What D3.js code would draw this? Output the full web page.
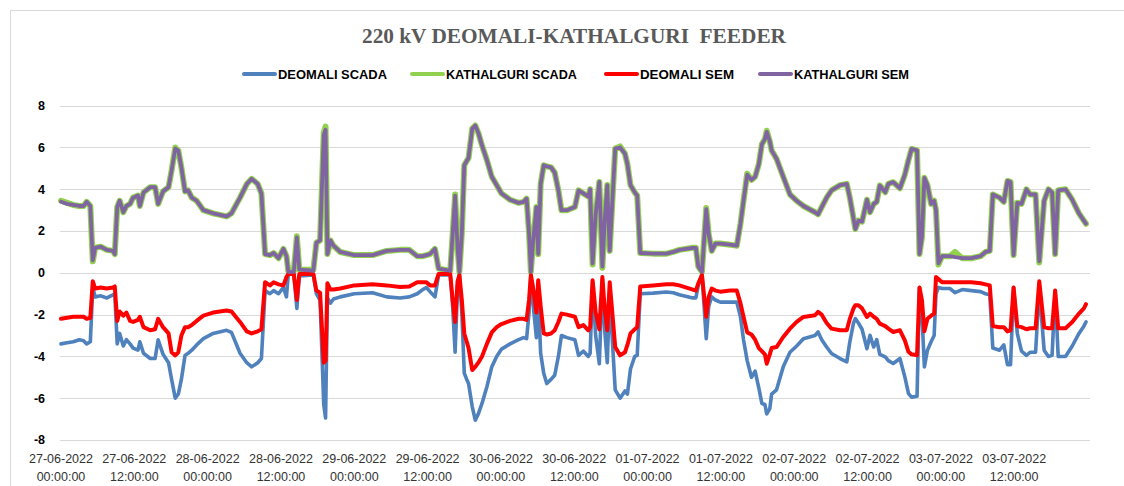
<!DOCTYPE html>
<html>
<head>
<meta charset="utf-8">
<script src="https://cdn.jsdelivr.net/npm/d3@7"></script>
<style>
  body { margin: 0; background: #fff; }
  svg { display: block; }
</style>
</head>
<body>
<div id="chart"></div>
<script>
// hours since 27-06-2022 00:00 (readings)
var hours = [0,1,2,3,3.7,4.2,4.8,5.2,5.6,6.5,7.5,8.5,8.8,9.2,9.6,10.2,10.7,11.3,11.8,12.6,12.9,13.5,14.6,15.4,15.9,16.7,17.6,18.1,18.7,19.2,19.7,20.3,20.8,21.4,22.2,23.3,24.9,27.1,27.9,29.3,30.4,31.2,32.2,32.8,33.4,34.2,34.8,35.6,36.4,36.9,37.2,38.1,38.6,39.0,41.3,41.8,42.4,43.0,43.3,43.6,44.1,44.6,45.7,48,51,53.3,55.5,57,58.3,59.2,59.8,60.4,61.2,61.8,63.7,64.1,64.5,64.9,65.2,65.6,66.0,66.4,66.7,67.3,67.8,68.3,68.9,69.7,70.5,71.3,72.1,73.5,74.9,75.7,76.2,76.6,76.9,77.2,77.8,78.1,78.5,79.0,79.5,80.2,80.8,81.4,81.9,82.8,84.1,84.7,85.5,86.3,86.6,87.0,87.5,88.1,88.6,89.0,89.4,89.8,90.7,91.5,92.3,92.7,93.2,93.9,94.3,94.8,96.9,99.1,100.2,101.2,103.4,103.9,104.3,104.9,105.6,106.0,106.5,107.1,107.9,109.5,110.6,111.2,111.7,112.3,113.0,113.6,114.2,114.7,115.2,115.5,116.0,116.3,117.1,118.2,119.3,120.4,121.5,123.4,123.9,124.5,125.3,126.1,127.5,128.6,129.1,129.7,130.0,130.5,131.1,131.9,132.4,133.0,133.5,134.0,134.9,135.4,136.2,137.3,138.1,138.7,139.2,140.1,140.5,140.9,141.3,141.8,142.4,142.9,143.2,143.6,144.2,145.5,146.3,147.5,149.0,150.5,151.3,152.0,152.5,153.6,154.3,154.9,155.4,155.9,156.5,157.2,158.0,158.6,159.5,160.1,160.9,161.6,162.2,162.7,163.2,164.4,165.5,166.6,167.4,167.75];

var deomaliScada = [-3.4,-3.35,-3.3,-3.2,-3.25,-3.4,-3.3,-0.7,-1.15,-1.1,-1.2,-1.05,-1.0,-3.4,-2.9,-3.5,-3.2,-3.4,-3.6,-3.7,-3.3,-3.85,-4.1,-4.1,-3.2,-3.9,-4.3,-5.1,-6.0,-5.8,-5.1,-3.95,-3.85,-3.7,-3.45,-3.15,-2.9,-2.75,-2.85,-3.85,-4.3,-4.5,-4.3,-4.1,-0.85,-1.0,-0.85,-1.0,-0.7,-1.15,-0.05,-0.05,-1.7,-0.15,-0.1,-1.0,-1.3,-6.3,-6.95,-1.2,-1.45,-1.25,-1.15,-1.0,-0.95,-1.15,-1.2,-1.15,-1.0,-0.8,-0.7,-0.9,-1.15,-0.1,-0.1,-1.6,-3.8,-0.65,-0.05,-1.9,-4.8,-5.1,-5.3,-6.4,-7.05,-6.75,-6.25,-5.45,-4.5,-4.0,-3.65,-3.4,-3.2,-3.1,-3.15,-1.9,-0.05,-1.3,-3.1,-1.0,-3.85,-4.8,-5.3,-5.1,-4.9,-4.0,-3.0,-3.1,-3.2,-3.95,-3.75,-4.0,-3.85,-0.45,-3.0,-4.35,-0.3,-2.8,-4.3,-1.0,-5.6,-6.0,-5.65,-5.8,-4.6,-4.0,-3.95,-1.0,-0.97,-0.92,-0.95,-1.05,-1.2,-1.2,-0.6,-0.05,-3.15,-1.6,-1.15,-1.3,-1.4,-1.4,-1.4,-2.1,-3.2,-4.2,-5.0,-4.7,-5.5,-6.25,-6.3,-6.75,-6.5,-5.8,-5.6,-4.5,-3.8,-3.5,-3.15,-3.0,-2.83,-3.2,-3.55,-3.86,-4.1,-4.26,-3.3,-2.4,-2.19,-2.4,-2.7,-3.63,-2.99,-3.55,-3.2,-3.9,-4.02,-4.2,-4.34,-4.1,-4.98,-5.78,-5.95,-5.9,-0.7,-2.0,-4.5,-3.7,-3.3,-3.0,-1.0,-0.7,-0.75,-0.75,-0.95,-0.8,-0.85,-0.9,-1.0,-1.05,-3.6,-3.7,-3.45,-4.4,-4.4,-0.7,-2.9,-3.75,-3.95,-3.8,-3.8,-0.75,-3.7,-4.0,-3.95,-0.85,-4.0,-4.0,-3.5,-2.9,-2.55,-2.35];

var kathalguriScada = [3.45,3.35,3.25,3.2,3.2,3.4,3.2,0.55,1.2,1.25,1.1,1.05,0.9,3.15,3.45,2.9,3.2,3.3,3.6,3.7,3.2,3.85,4.1,4.1,3.3,3.9,4.1,4.9,6.0,5.85,5.05,3.9,3.95,3.6,3.45,3.0,2.85,2.7,2.85,3.6,4.25,4.5,4.25,3.8,0.9,0.85,0.95,0.7,1.15,0.8,0.1,0.1,1.75,0.15,0.15,1.45,1.55,6.7,7.0,0.9,1.55,1.3,1.0,0.85,0.85,1.05,1.1,1.1,0.8,0.8,0.85,0.9,1.15,0.2,0.1,1.85,3.75,1.2,0.05,1.9,5.15,5.35,5.5,6.9,7.05,6.7,6.1,5.4,4.6,4.2,3.8,3.5,3.35,3.4,3.55,1.9,0.05,1.25,3.15,0.9,4.25,5.15,5.1,5.05,4.8,3.95,3.0,3.0,3.15,3.95,3.8,3.65,4.0,0.4,2.8,4.35,0.25,2.6,4.2,1.05,5.95,6.05,5.7,5.2,4.2,3.85,3.7,0.95,0.92,0.92,1.0,1.1,1.2,1.2,0.3,0.05,3.1,1.85,1.05,1.4,1.4,1.35,1.3,2.35,3.45,4.75,4.45,4.6,5.2,6.15,6.4,6.8,6.3,5.86,5.46,4.6,3.75,3.45,3.2,2.9,2.8,3.15,3.6,3.95,4.2,4.26,3.6,2.6,2.1,2.5,2.45,3.5,2.9,3.3,3.4,4.18,3.86,4.26,4.34,4.05,4.7,5.4,5.93,5.86,0.9,1.7,4.55,4.2,3.3,3.45,3.0,0.4,0.8,0.8,1.0,0.7,0.7,0.8,1.0,1.05,3.75,3.6,3.4,4.4,4.35,0.85,3.35,3.3,4.0,3.75,3.75,0.5,3.45,4.0,3.85,0.9,3.95,4.0,3.5,2.85,2.5,2.35];

var deomaliSem = [-2.2,-2.15,-2.1,-2.1,-2.1,-2.2,-2.15,-0.4,-0.75,-0.7,-0.75,-0.7,-0.65,-2.3,-1.85,-2.05,-1.9,-2.3,-2.35,-2.25,-2.1,-2.6,-2.75,-2.7,-2.2,-2.6,-2.9,-3.8,-3.95,-3.8,-3.0,-2.6,-2.6,-2.5,-2.3,-2.05,-1.9,-1.8,-1.85,-2.35,-2.8,-2.9,-2.8,-2.7,-0.45,-0.6,-0.45,-0.55,-0.6,-0.2,-0.05,-0.05,-1.3,-0.05,-0.05,-0.85,-0.95,-4.3,-4.2,-0.5,-0.8,-0.8,-0.75,-0.6,-0.55,-0.6,-0.68,-0.65,-0.45,-0.45,-0.45,-0.6,-0.6,-0.05,-0.05,-1.3,-2.35,-0.4,-0.1,-1.3,-2.9,-3.3,-3.6,-4.65,-4.5,-4.3,-4.0,-3.4,-2.85,-2.6,-2.45,-2.3,-2.2,-2.2,-2.25,-1.3,-0.1,-0.6,-1.9,-0.35,-1.6,-2.9,-2.95,-2.9,-2.75,-2.35,-1.95,-2.0,-2.1,-2.6,-2.5,-2.75,-2.6,-0.35,-1.9,-2.7,-0.2,-1.8,-2.75,-0.45,-3.55,-3.95,-3.8,-3.45,-2.9,-2.7,-2.6,-0.65,-0.6,-0.55,-0.55,-0.6,-0.8,-0.85,-0.5,-0.1,-2.1,-1.15,-0.75,-0.85,-0.9,-0.85,-0.85,-1.45,-2.1,-2.85,-2.95,-3.2,-3.6,-3.75,-3.9,-4.35,-3.9,-3.6,-3.55,-3.07,-2.67,-2.35,-2.11,-2.03,-1.87,-2.0,-2.4,-2.67,-2.75,-2.75,-2.2,-1.7,-1.55,-1.55,-1.7,-2.11,-1.95,-2.1,-2.2,-2.43,-2.55,-2.67,-2.83,-2.75,-3.23,-3.78,-3.9,-3.94,-0.7,-1.3,-2.8,-2.2,-2.05,-1.95,-0.2,-0.3,-0.45,-0.45,-0.45,-0.45,-0.45,-0.5,-0.55,-0.6,-2.55,-2.6,-2.6,-2.8,-2.75,-0.7,-2.55,-2.6,-2.7,-2.65,-2.65,-0.4,-2.6,-2.65,-2.65,-0.85,-2.65,-2.65,-2.35,-1.95,-1.7,-1.5];

var kathalguriSem = [3.4,3.3,3.25,3.2,3.2,3.4,3.2,0.6,1.2,1.25,1.1,1.05,0.9,3.15,3.45,2.9,3.2,3.3,3.6,3.7,3.2,3.85,4.1,4.1,3.3,3.9,4.1,4.9,5.95,5.85,5.05,3.9,3.95,3.6,3.45,3.0,2.85,2.7,2.85,3.6,4.25,4.5,4.25,3.8,0.9,0.85,0.95,0.7,1.15,0.8,0.05,0.05,1.7,0.15,0.1,1.45,1.55,6.6,6.85,0.9,1.55,1.3,1.0,0.85,0.85,1.05,1.1,1.1,0.8,0.8,0.85,0.9,1.15,0.2,0.1,1.85,3.7,1.2,0.05,1.9,5.15,5.35,5.5,6.9,7.05,6.7,6.1,5.4,4.6,4.2,3.8,3.5,3.35,3.4,3.55,1.9,0.05,1.25,3.15,0.9,4.25,5.15,5.1,5.05,4.8,3.95,3.0,3.0,3.15,3.95,3.8,3.65,4.0,0.45,2.8,4.35,0.3,2.6,4.2,1.05,5.95,6.0,5.7,5.2,4.2,3.85,3.7,0.95,0.92,0.92,1.0,1.1,1.2,1.2,0.3,0.05,3.05,1.85,1.05,1.4,1.4,1.35,1.3,2.35,3.45,4.7,4.45,4.6,5.2,6.15,6.4,6.75,6.3,5.86,5.46,4.6,3.75,3.45,3.2,2.9,2.8,3.15,3.6,3.95,4.2,4.26,3.6,2.6,2.1,2.5,2.45,3.5,2.9,3.3,3.4,4.18,3.86,4.26,4.34,4.05,4.7,5.4,5.93,5.86,0.9,1.7,4.55,4.2,3.3,3.45,3.0,0.45,0.8,0.8,0.75,0.7,0.7,0.8,1.0,1.05,3.75,3.6,3.4,4.4,4.35,0.85,3.35,3.3,4.0,3.75,3.75,0.55,3.45,4.0,3.85,0.9,3.95,4.0,3.5,2.85,2.5,2.35];

var tickHours = [0,12,24,36,48,60,72,84,96,108,120,132,144,156];
var tickDates = ["27-06-2022","27-06-2022","28-06-2022","28-06-2022","29-06-2022","29-06-2022","30-06-2022","30-06-2022","01-07-2022","01-07-2022","02-07-2022","02-07-2022","03-07-2022","03-07-2022"];
var tickTimes = ["00:00:00","12:00:00","00:00:00","12:00:00","00:00:00","12:00:00","00:00:00","12:00:00","00:00:00","12:00:00","00:00:00","12:00:00","00:00:00","12:00:00"];
var yTicks = [-8,-6,-4,-2,0,2,4,6,8];

var seriesNames = ["DEOMALI SCADA","KATHALGURI SCADA","DEOMALI SEM","KATHALGURI SEM"];
var seriesColors = ["#4f81bd","#92d050","#ff0000","#8064a2"];
var seriesValues = [deomaliScada, kathalguriScada, deomaliSem, kathalguriSem];
var seriesWidths = [3.6, 6, 4, 3.8];

var W = 1124, H = 486;
var svg = d3.select("#chart").append("svg")
    .attr("width", W)
    .attr("height", H);

svg.append("rect").attr("width", W).attr("height", H).attr("fill", "#fff");
// chart area border
svg.append("rect")
    .attr("x", 10.5).attr("y", 10.5)
    .attr("width", W + 20).attr("height", H + 20)
    .attr("fill", "none").attr("stroke", "#d9d9d9");

var x = d3.scaleLinear().domain([0, 167.75]).range([61, 1086]);
var y = d3.scaleLinear().domain([-8, 8]).range([440, 105.7]);

// gridlines
svg.append("g").selectAll("line")
    .data(yTicks)
  .enter().append("line")
    .attr("x1", 60).attr("x2", 1090)
    .attr("y1", function(d) { return Math.round(y(d)) + 0.5; })
    .attr("y2", function(d) { return Math.round(y(d)) + 0.5; })
    .attr("stroke", "#d9d9d9")
    .attr("stroke-width", 1);

// y labels
svg.append("g").selectAll("text")
    .data(yTicks)
  .enter().append("text")
    .attr("x", 45)
    .attr("y", function(d) { return y(d); })
    .attr("dy", "0.35em")
    .attr("text-anchor", "end")
    .style("font-family", "'Liberation Sans', Arial, sans-serif")
    .style("font-size", "12.5px")
    .style("font-weight", "bold")
    .style("fill", "#000")
    .text(function(d) { return d; });

// x labels, two lines each
var xl = svg.append("g").selectAll("text")
    .data(tickHours)
  .enter().append("text")
    .attr("text-anchor", "middle")
    .style("font-family", "'Liberation Sans', Arial, sans-serif")
    .style("font-size", "12.5px")
    .style("fill", "#333");
xl.append("tspan")
    .attr("x", function(d) { return x(d); })
    .attr("y", 463)
    .text(function(d, i) { return tickDates[i]; });
xl.append("tspan")
    .attr("x", function(d) { return x(d); })
    .attr("y", 481)
    .text(function(d, i) { return tickTimes[i]; });

// series
var line = d3.line()
    .x(function(d, i) { return x(hours[i]); })
    .y(function(d) { return y(d); });

seriesValues.forEach(function(vals, k) {
  svg.append("path")
      .datum(vals)
      .attr("d", line)
      .attr("fill", "none")
      .attr("stroke", seriesColors[k])
      .attr("stroke-width", seriesWidths[k])
      .attr("stroke-linejoin", "round")
      .attr("stroke-linecap", "round");
});

// title (double space kept as in the original)
svg.append("text")
    .attr("x", 574)
    .attr("y", 43)
    .attr("text-anchor", "middle")
    .attr("textLength", 424)
    .attr("lengthAdjust", "spacingAndGlyphs")
    .style("white-space", "pre")
    .style("font-family", "'Liberation Serif', 'Times New Roman', serif")
    .style("font-size", "20px")
    .style("font-weight", "bold")
    .style("fill", "#595959")
    .text("220 kV DEOMALI-KATHALGURI  FEEDER");

// legend
var legendX = [244, 412, 606, 760];
var legendTextW = [109, 131, 94, 115];
var lg = svg.append("g").selectAll("g")
    .data(seriesNames)
  .enter().append("g")
    .attr("transform", function(d, i) { return "translate(" + legendX[i] + ",74)"; });
lg.append("line")
    .attr("x1", 0).attr("x2", 31)
    .attr("stroke", function(d, i) { return seriesColors[i]; })
    .attr("stroke-width", 4)
    .attr("stroke-linecap", "round");
lg.append("text")
    .attr("x", 34)
    .attr("dy", "0.36em")
    .attr("textLength", function(d, i) { return legendTextW[i]; })
    .attr("lengthAdjust", "spacingAndGlyphs")
    .style("font-family", "'Liberation Sans Narrow', 'Arial Narrow', 'Liberation Sans', sans-serif")
    .style("font-size", "13px")
    .style("font-weight", "bold")
    .style("fill", "#000")
    .text(function(d) { return d; });
</script>
</body>
</html>
